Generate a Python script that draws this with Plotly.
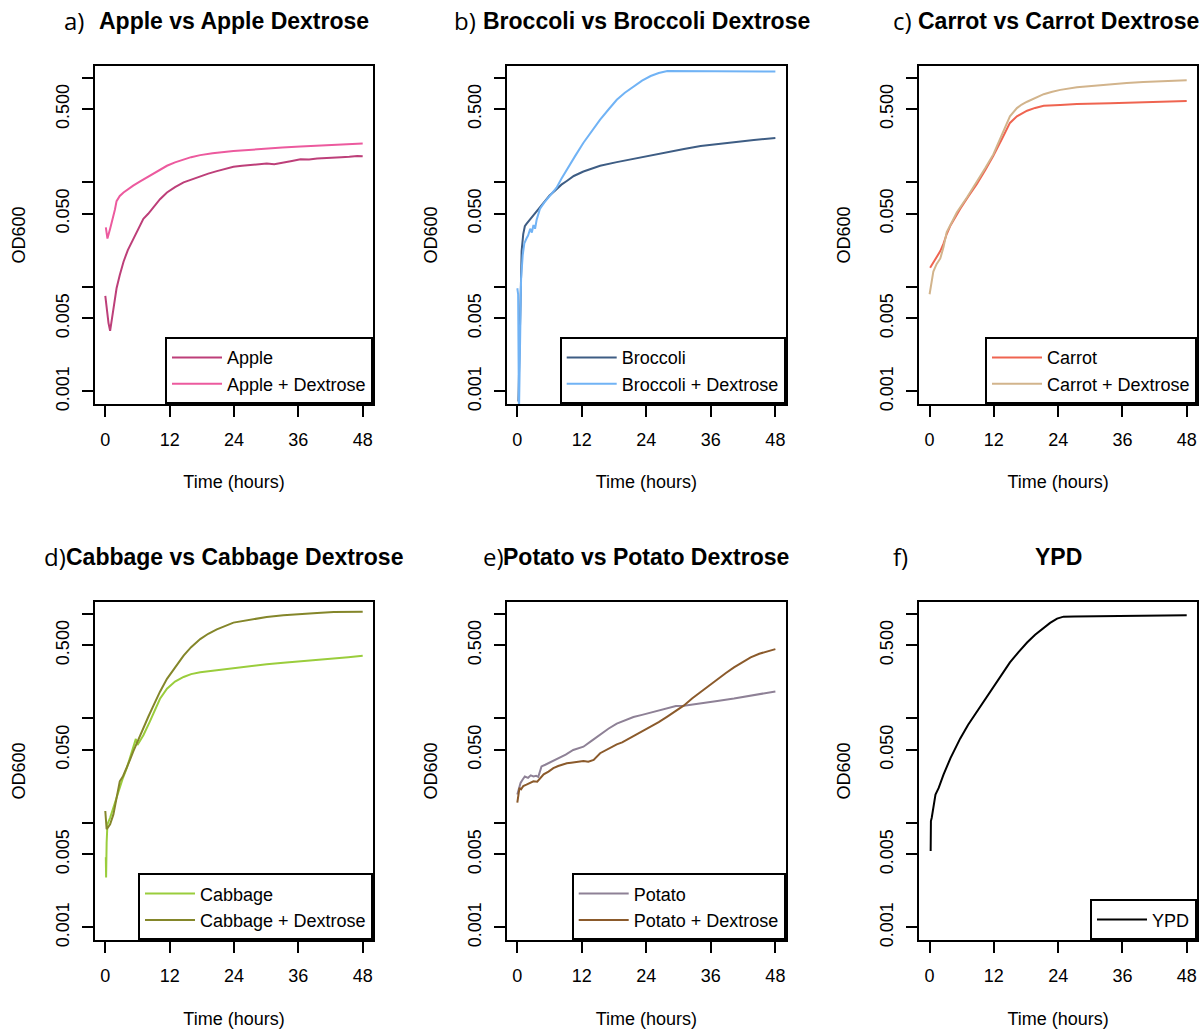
import plotly.graph_objects as go

# ---------------- data ----------------
apple_t = [0, 0.3, 0.6, 0.9, 1.2, 1.6, 2.1, 2.7, 3.4, 4.2, 5.2, 6.1, 7.1, 8.0, 9.0, 10.2, 11.5, 13.0, 14.6, 16.0,
           17.7, 19.2, 20.8, 22.4, 23.9, 25.5, 27.0, 28.5, 30.1, 31.5, 33.0, 34.8, 36.4, 38.0, 39.5, 41.0, 42.6,
           44.0, 45.5, 47.0, 48.0]
apple_v = [0.0082, 0.0058, 0.0045, 0.0038, 0.0048, 0.0068, 0.0097, 0.0130, 0.0174, 0.0225, 0.0289, 0.0360,
           0.0448, 0.0500, 0.0578, 0.0690, 0.0800, 0.0900, 0.1000, 0.1060, 0.1150, 0.1210, 0.1280, 0.1350,
           0.1410, 0.1440, 0.1470, 0.1480, 0.1510, 0.1490, 0.1550, 0.1600, 0.1660, 0.1650, 0.1690, 0.1700,
           0.1720, 0.1740, 0.1760, 0.1790, 0.1780]
apple_dex_t = [0.1, 0.4, 0.9, 1.4, 1.8, 2.1, 2.7, 3.4, 4.2, 5.2, 6.5, 8.3, 10.0, 11.5, 13.0, 14.6, 16.0, 17.7,
               20.0, 23.9, 27.0, 30.1, 33.0, 36.4, 40.0, 44.0, 48.0]
apple_dex_v = [0.037, 0.029, 0.036, 0.045, 0.055, 0.066, 0.074, 0.080, 0.086, 0.093, 0.102, 0.115, 0.130, 0.144,
               0.155, 0.166, 0.174, 0.182, 0.190, 0.199, 0.205, 0.211, 0.215, 0.220, 0.224, 0.229, 0.235]

broc_t = [0.2, 0.4, 0.6, 0.8, 1.1, 1.4, 1.7, 2.2, 3.0, 4.0, 4.9, 6.0, 7.3, 8.2, 9.2, 10.5, 12.3, 14.0, 15.4,
          18.5, 21.6, 24.8, 27.9, 31.0, 34.1, 37.2, 40.3, 44.0, 48.0]
broc_v = [0.0008, 0.003, 0.010, 0.022, 0.032, 0.038, 0.040, 0.043, 0.048, 0.056, 0.064, 0.075, 0.086, 0.095,
          0.103, 0.115, 0.127, 0.137, 0.144, 0.156, 0.168, 0.181, 0.195, 0.208, 0.222, 0.232, 0.243, 0.254, 0.265]
broc_dex_t = [0.0, 0.15, 0.3, 0.5, 0.7, 1.0, 1.3, 1.7, 2.0, 2.4, 2.7, 3.0, 3.3, 3.6, 4.2, 5.0, 6.1, 7.3, 8.2,
              9.2, 10.8, 12.3, 13.8, 15.4, 17.0, 18.5, 20.0, 21.6, 23.2, 24.8, 26.3, 27.9, 30.0, 35.0, 40.0, 48.0]
broc_dex_v = [0.0097, 0.0085, 0.0006, 0.004, 0.012, 0.020, 0.026, 0.029, 0.031, 0.036, 0.033, 0.039, 0.036,
              0.044, 0.0557, 0.064, 0.0745, 0.089, 0.108, 0.133, 0.18, 0.239, 0.31, 0.398, 0.50, 0.616, 0.72,
              0.824, 0.94, 1.04, 1.11, 1.16, 1.16, 1.16, 1.16, 1.15]

carrot_t = [0.1, 0.7, 1.4, 2.0, 2.6, 3.2, 3.9, 4.8, 5.7, 7.2, 8.8, 10.4, 11.9, 13.5, 15.0, 16.3, 17.2, 18.2,
            19.7, 21.3, 24.4, 27.5, 33.7, 39.9, 44.0, 48.0]
carrot_v = [0.0152, 0.0170, 0.0194, 0.0220, 0.0259, 0.0320, 0.0387, 0.0470, 0.0557, 0.073, 0.096, 0.131, 0.179,
            0.26, 0.37, 0.428, 0.455, 0.484, 0.515, 0.54, 0.55, 0.56, 0.57, 0.58, 0.59, 0.60]
carrot_dex_t = [0.0, 0.3, 0.7, 1.3, 2.0, 2.6, 3.2, 4.2, 5.1, 7.0, 8.8, 10.4, 11.9, 13.5, 15.0, 16.3, 17.2, 18.2,
                19.7, 21.3, 22.9, 24.4, 27.5, 30.6, 33.7, 36.8, 39.9, 44.0, 48.0]
carrot_dex_v = [0.0085, 0.011, 0.014, 0.0165, 0.0187, 0.024, 0.0334, 0.042, 0.0518, 0.072, 0.10, 0.137, 0.185,
                0.28, 0.428, 0.513, 0.555, 0.59, 0.645, 0.697, 0.735, 0.766, 0.81, 0.84, 0.867, 0.89, 0.91,
                0.93, 0.946]

cabbage_t = [0.1, 0.15, 0.25, 0.4, 0.9, 1.5, 2.1, 2.7, 3.3, 4.0, 4.6, 5.2, 5.7, 6.0, 6.5, 7.1, 8.3, 9.2, 10.2,
             11.5, 13.0, 14.6, 16.0, 17.7, 20.8, 23.9, 27.0, 30.1, 33.2, 36.4, 39.5, 42.6, 45.3, 48.0]
cabbage_v = [0.0047, 0.0030, 0.0065, 0.0097, 0.0112, 0.0140, 0.0170, 0.0216, 0.0270, 0.0334, 0.0420, 0.0518,
             0.0636, 0.0557, 0.062, 0.069, 0.093, 0.118, 0.154, 0.192, 0.225, 0.249, 0.265, 0.276, 0.289, 0.301,
             0.315, 0.330, 0.340, 0.350, 0.362, 0.374, 0.385, 0.398]
cabbage_dex_t = [0.0, 0.25, 0.6, 0.9, 1.5, 2.1, 2.7, 3.3, 4.0, 4.6, 5.2, 6.1, 7.1, 8.0, 9.0, 10.2, 11.5, 13.0,
                 14.6, 16.0, 17.7, 19.2, 20.8, 23.9, 27.0, 30.1, 33.2, 36.4, 39.5, 42.6, 45.3, 48.0]
cabbage_dex_v = [0.013, 0.0087, 0.0092, 0.0097, 0.012, 0.017, 0.025, 0.028, 0.0334, 0.040, 0.048, 0.062, 0.080,
                 0.103, 0.133, 0.18, 0.239, 0.31, 0.398, 0.48, 0.573, 0.645, 0.71, 0.824, 0.88, 0.934, 0.97, 1.0,
                 1.02, 1.04, 1.045, 1.05]

potato_t = [0.0, 0.3, 0.6, 1.0, 1.4, 2.0, 2.5, 3.0, 3.5, 3.9, 4.2, 4.5, 5.2, 6.1, 7.0, 8.0, 9.0, 10.4, 11.3,
            12.3, 13.8, 15.4, 17.0, 18.5, 20.0, 21.6, 23.2, 24.8, 26.3, 27.9, 29.5, 31.0, 32.5, 34.1, 37.2, 40.3,
            44.0, 48.0]
potato_v = [0.0187, 0.022, 0.0241, 0.026, 0.0278, 0.027, 0.0285, 0.0278, 0.0282, 0.0276, 0.031, 0.0347, 0.0360,
            0.038, 0.040, 0.042, 0.045, 0.0499, 0.052, 0.0536, 0.061, 0.0703, 0.080, 0.089, 0.096, 0.103, 0.108,
            0.113, 0.118, 0.124, 0.131, 0.132, 0.136, 0.139, 0.147, 0.155, 0.167, 0.181]
potato_dex_t = [0.0, 0.2, 0.4, 0.7, 1.1, 1.7, 2.3, 3.0, 3.7, 4.3, 4.9, 5.8, 6.7, 7.6, 8.4, 9.2, 10.0, 11.0, 12.3,
                13.2, 14.2, 15.4, 16.5, 17.5, 18.5, 19.5, 20.5, 21.6, 22.5, 23.5, 24.8, 26.3, 27.9, 29.5, 31.0,
                32.5, 34.1, 35.6, 37.2, 38.8, 40.3, 41.9, 43.4, 45.0, 46.5, 48.0]
potato_dex_v = [0.0156, 0.019, 0.0216, 0.021, 0.0225, 0.0232, 0.024, 0.025, 0.0248, 0.027, 0.0292, 0.031, 0.0334,
                0.035, 0.036, 0.0372, 0.0376, 0.038, 0.039, 0.0385, 0.040, 0.0464, 0.050, 0.053, 0.0565, 0.059,
                0.063, 0.0678, 0.072, 0.076, 0.083, 0.092, 0.104, 0.118, 0.133, 0.155, 0.179, 0.207, 0.239, 0.272,
                0.308, 0.345, 0.383, 0.415, 0.44, 0.46]

ypd_t = [0.2, 0.25, 0.4, 0.7, 1.1, 1.7, 2.6, 3.9, 5.7, 7.2, 8.8, 10.4, 11.9, 13.5, 15.0, 16.6, 18.2, 19.7, 21.3,
         22.5, 23.8, 25.0, 27.0, 33.7, 40.0, 48.0]
ypd_v = [0.0054, 0.0104, 0.0112, 0.014, 0.0187, 0.0216, 0.0289, 0.0417, 0.064, 0.087, 0.115, 0.152, 0.199, 0.26,
         0.343, 0.43, 0.532, 0.63, 0.738, 0.82, 0.90, 0.94, 0.945, 0.953, 0.96, 0.97]

x_ticks = [0, 12, 24, 36, 48]
y_tick_vals = [0.001, 0.005, 0.01, 0.05, 0.1, 0.5, 1]
y_tick_text = ["0.001", "0.005", "", "0.050", "", "0.500", ""]

panel_letters = ["a)", "b)", "c)", "d)", "e)", "f)"]
panel_titles = ["Apple vs Apple Dextrose", "Broccoli vs Broccoli Dextrose", "Carrot vs Carrot Dextrose",
                "Cabbage vs Cabbage Dextrose", "Potato vs Potato Dextrose", "YPD"]
series = [
    [("Apple", apple_t, apple_v, "#BD3F79"), ("Apple + Dextrose", apple_dex_t, apple_dex_v, "#EC5A9E")],
    [("Broccoli", broc_t, broc_v, "#3E5D84"), ("Broccoli + Dextrose", broc_dex_t, broc_dex_v, "#71B3F5")],
    [("Carrot", carrot_t, carrot_v, "#EF6450"), ("Carrot + Dextrose", carrot_dex_t, carrot_dex_v, "#D2B48C")],
    [("Cabbage", cabbage_t, cabbage_v, "#9ACD3C"), ("Cabbage + Dextrose", cabbage_dex_t, cabbage_dex_v, "#84862A")],
    [("Potato", potato_t, potato_v, "#8E8196"), ("Potato + Dextrose", potato_dex_t, potato_dex_v, "#8B5A2B")],
    [("YPD", ypd_t, ypd_v, "#000000")],
]

# ---------------- layout geometry (pixels) ----------------
W, H = 1202, 1036
col_px = [(95, 373), (507, 785.7), (919.3, 1197)]
row_px = [(66, 407), (605.7, 946.7)]
letter_x = [62, 452, 890.7, 42, 480.7, 890.7]
FONT = "Liberation Sans, Arial, Helvetica, sans-serif"

fig = go.Figure()
layout = dict(width=W, height=H, margin=dict(l=0, r=0, t=0, b=0),
              paper_bgcolor="white", plot_bgcolor="white", showlegend=True,
              font=dict(family=FONT, size=18, color="black"))
annotations = []

for i in range(6):
    k = i + 1
    r, c = divmod(i, 3)
    x0, x1 = col_px[c]
    yt, yb = row_px[r]
    xdom = [x0 / W, x1 / W]
    ydom = [1 - yb / H, 1 - yt / H]
    xname = "xaxis" if k == 1 else f"xaxis{k}"
    yname = "yaxis" if k == 1 else f"yaxis{k}"
    xref = "x" if k == 1 else f"x{k}"
    yref = "y" if k == 1 else f"y{k}"
    lname = "legend" if k == 1 else f"legend{k}"

    for name, t, v, col in series[i]:
        fig.add_trace(go.Scatter(x=t, y=v, mode="lines", name=name, xaxis=xref, yaxis=yref,
                                 legend=lname, line=dict(color=col, width=2)))

    layout[xname] = dict(domain=xdom, anchor=yref, range=[-1.92, 49.92], tickvals=x_ticks,
                         ticks="outside", ticklen=11, tickwidth=2, tickcolor="black",
                         showline=True, linewidth=2, linecolor="black", mirror=True,
                         showgrid=False, zeroline=False, ticklabelstandoff=7,
                         tickfont=dict(size=18, family=FONT),
                         title=dict(text="Time (hours)", font=dict(size=18, family=FONT), standoff=27))
    layout[yname] = dict(domain=ydom, anchor=xref, type="log", range=[-3.123, 0.117],
                         tickvals=y_tick_vals, ticktext=y_tick_text, tickangle=-90,
                         ticks="outside", ticklen=11, tickwidth=2, tickcolor="black",
                         showline=True, linewidth=2, linecolor="black", mirror=True,
                         showgrid=False, zeroline=False, ticklabelstandoff=6,
                         tickfont=dict(size=18, family=FONT),
                         title=dict(text="OD600", font=dict(size=18, family=FONT), standoff=22))
    layout[lname] = dict(x=xdom[1], y=ydom[0], xanchor="right", yanchor="bottom",
                         bordercolor="black", borderwidth=2, bgcolor="white", itemwidth=50,
                         font=dict(size=18, family=FONT), tracegroupgap=0)

    # panel title and letter
    ty = yt - 44.5
    annotations.append(dict(text="<b>" + panel_titles[i] + "</b>", xref="paper", yref="paper",
                            x=(x0 + x1) / 2 / W, y=1 - ty / H, xanchor="center", yanchor="middle",
                            showarrow=False, font=dict(size=23, family=FONT, color="black")))
    annotations.append(dict(text=panel_letters[i], xref="paper", yref="paper",
                            x=letter_x[i] / W, y=1 - (ty - 1) / H, xanchor="left", yanchor="middle",
                            showarrow=False, font=dict(size=24, family="Open Sans", color="black")))

layout["annotations"] = annotations
fig.update_layout(**layout)
fig.write_html("out.html", config={"displayModeBar": False},
               post_script="document.body.style.margin='0px';")
